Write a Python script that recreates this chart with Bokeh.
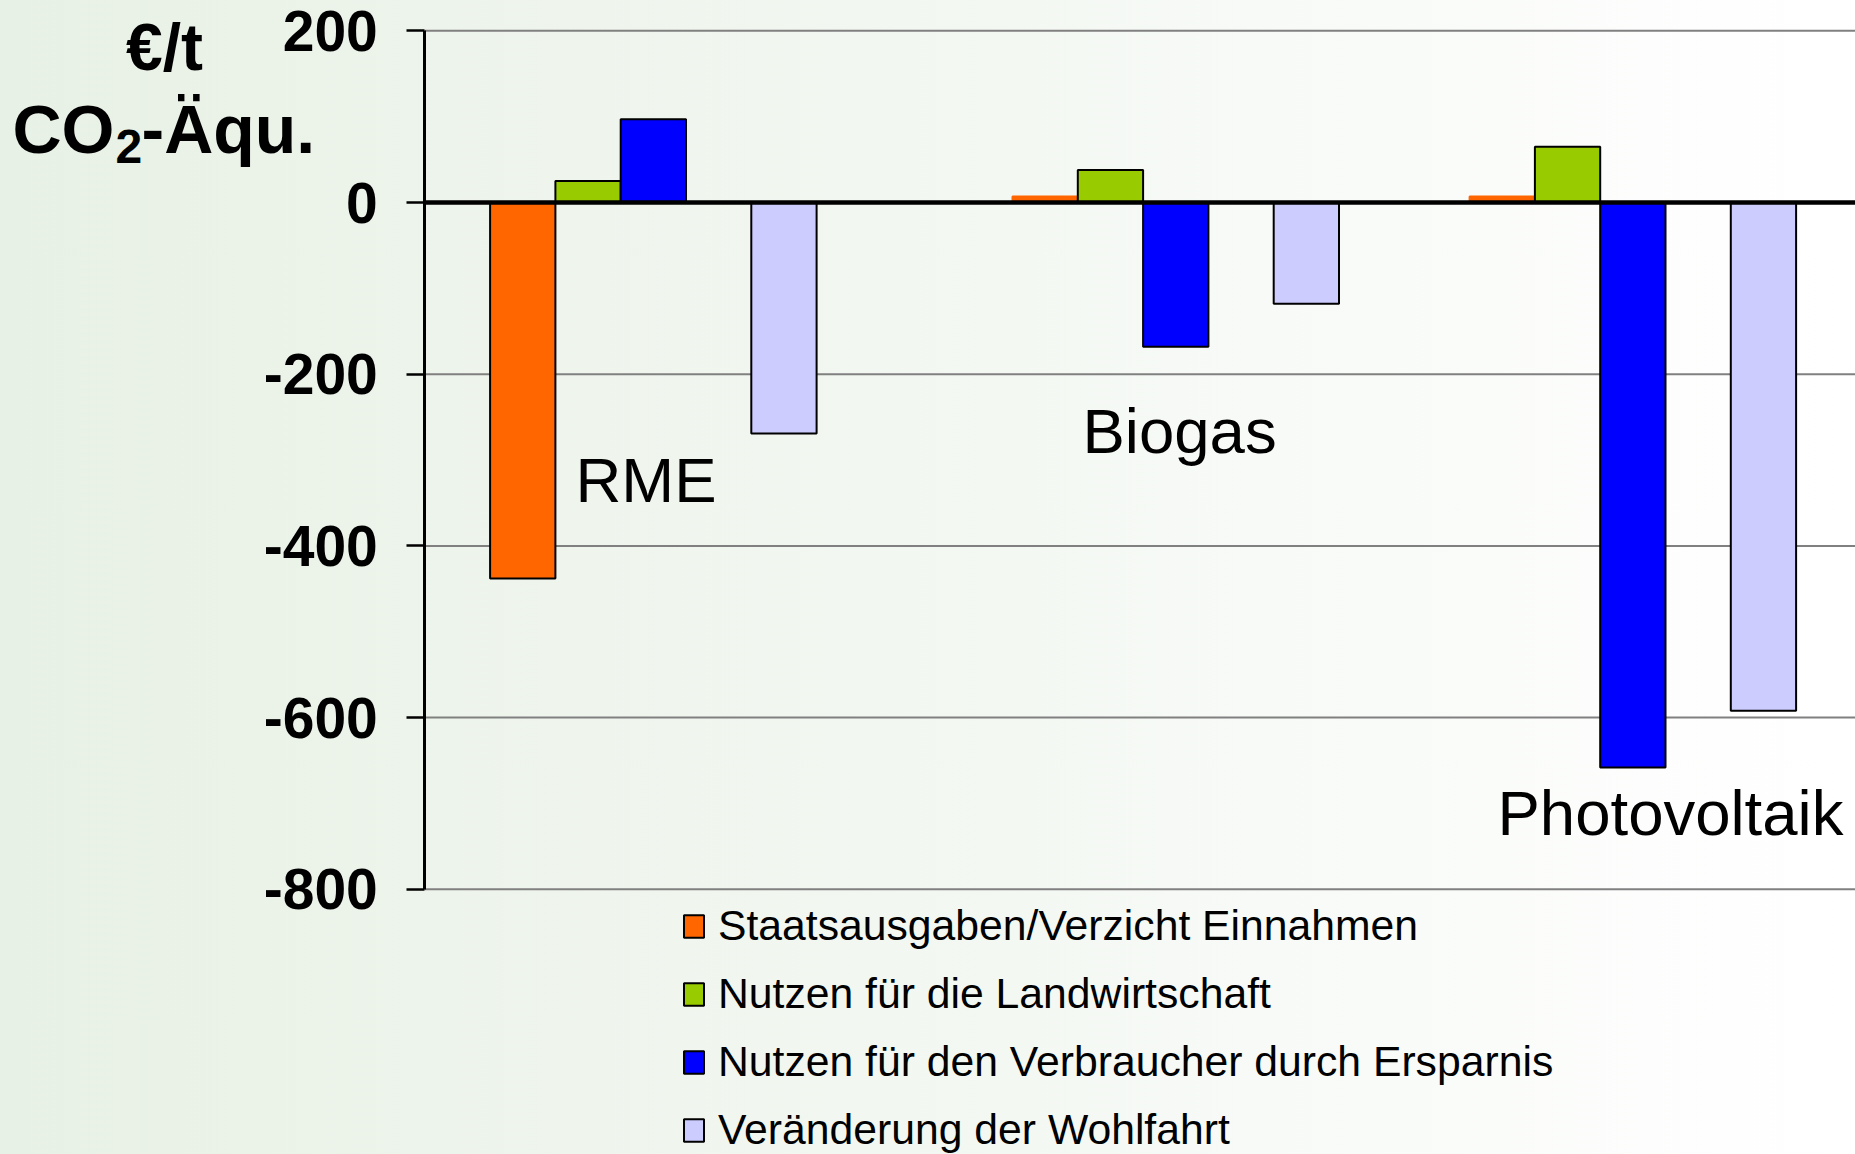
from bokeh.plotting import figure
from bokeh.models import (ColumnDataSource, Range1d, Legend, LegendItem,
                          FixedTicker, Label)
from bokeh.embed import file_html
from bokeh.resources import INLINE

# ---------------- data ----------------
categories = ["RME", "Biogas", "Photovoltaik"]
series_names = [
    "Staatsausgaben/Verzicht Einnahmen",
    "Nutzen für die Landwirtschaft",
    "Nutzen für den Verbraucher durch Ersparnis",
    "Veränderung der Wohlfahrt",
]
staatsausgaben = [-438, 7, 7]
landwirtschaft = [25, 38, 65]
verbraucher = [97, -168, -658]
wohlfahrt = [-269, -118, -592]
y_ticks = [-800, -600, -400, -200, 0, 200]
unit_line1 = "€/t"
unit_co = "CO"
unit_sub = "2"
unit_rest = "-Äqu."

series_values = [staatsausgaben, landwirtschaft, verbraucher, wohlfahrt]
colors = ["#FF6600", "#99CC00", "#0000FF", "#CCCCFF"]

# ---------------- layout ----------------
W, H = 1855, 1154
AXIS_PX = 424.3        # page x of the value axis
ZERO_PX = 202.0        # page y of the zero line
SLOT_PX = 65.3         # width of one bar slot
PX_PER_UNIT = 0.8585   # pixels per value unit
GROUP_START = [1, 9, 16]
SERIES_SLOT = [0, 1, 2, 4]
FONT = "Liberation Sans"
BASELINE_FIX = 0.39    # renderer places alphabetic baseline this many font-sizes low


def px_x(px):
    return (px - AXIS_PX) / SLOT_PX


def px_y(py):
    return (ZERO_PX - py) / PX_PER_UNIT


def text_label(text, px, baseline_py, size, bold=False, align="left"):
    return Label(x=px_x(px), y=px_y(baseline_py - BASELINE_FIX * size), text=text,
                 text_font=FONT, text_font_size=f"{size}px",
                 text_font_style="bold" if bold else "normal", text_color="black",
                 text_align=align, text_baseline="alphabetic")


x_start, x_end = px_x(0), px_x(W)
y_top, y_bottom = px_y(0), px_y(H)

p = figure(width=W, height=H,
           x_range=Range1d(x_start, x_end), y_range=Range1d(y_bottom, y_top),
           x_axis_location=None, output_backend="svg", toolbar_location=None,
           min_border_left=0, min_border_top=0,
           min_border_right=0, min_border_bottom=0)

p.background_fill_alpha = 0
p.border_fill_alpha = 0
p.outline_line_alpha = 0
p.styles = {"background": "linear-gradient(to right, #E8F1E5 0%, #F4F8F3 55%, #FFFFFF 100%)"}

p.xgrid.visible = False
p.ygrid.visible = False

yax = p.yaxis[0]
yax.fixed_location = 0
yax.ticker = FixedTicker(ticks=y_ticks)
yax.bounds = (min(y_ticks), max(y_ticks))
yax.major_label_overrides = {t: str(t) for t in y_ticks}
yax.major_label_text_font = FONT
yax.major_label_text_font_size = "57px"
yax.major_label_text_font_style = "bold"
yax.major_label_text_color = "black"
yax.major_label_standoff = 29
yax.major_tick_out = 18
yax.major_tick_in = 0
yax.minor_tick_out = 0
yax.minor_tick_in = 0
yax.axis_line_width = 3
yax.axis_line_color = "black"
yax.major_tick_line_width = 2.5
yax.major_tick_line_color = "black"

# horizontal grid lines, from the axis to the right edge
p.segment(x0=[0] * len(y_ticks), x1=[x_end] * len(y_ticks), y0=y_ticks, y1=y_ticks,
          line_color="#808080", line_width=2)

items = []
for s_idx, (name, vals, col) in enumerate(zip(series_names, series_values, colors)):
    xs = [GROUP_START[g] + SERIES_SLOT[s_idx] + 0.5 for g in range(len(categories))]
    lines = ["black" if abs(v) > 10 else col for v in vals]
    src = ColumnDataSource(dict(x=xs, top=vals, line=lines))
    r = p.vbar(x="x", top="top", bottom=0, width=1.0, source=src,
               fill_color=col, line_color="line", line_width=2)
    items.append(LegendItem(label=name, renderers=[r]))

# zero line
p.segment(x0=[0], x1=[x_end], y0=[0], y1=[0], line_color="black", line_width=4.5)

# category labels
label_pos = [(575, 504), (1082, 455), (1497, 837)]
for cat, (lx, ly) in zip(categories, label_pos):
    p.add_layout(text_label(cat, lx, ly, 63.5))

# unit label
p.add_layout(text_label(unit_line1, 164, 72, 66, bold=True, align="center"))
p.add_layout(text_label(unit_co, 12, 155, 68, bold=True))
p.add_layout(text_label(unit_sub, 115, 165, 48, bold=True))
p.add_layout(text_label(unit_rest, 141, 155, 68, bold=True))

legend = Legend(items=items, location=(681, 0),
                orientation="vertical", glyph_width=25, glyph_height=28,
                label_standoff=12, spacing=19, padding=0, margin=0,
                border_line_alpha=0, background_fill_alpha=0,
                label_text_font=FONT, label_text_font_size="42.7px",
                label_text_color="black")
p.add_layout(legend)

open("out.html", "w").write(file_html(p, INLINE))
